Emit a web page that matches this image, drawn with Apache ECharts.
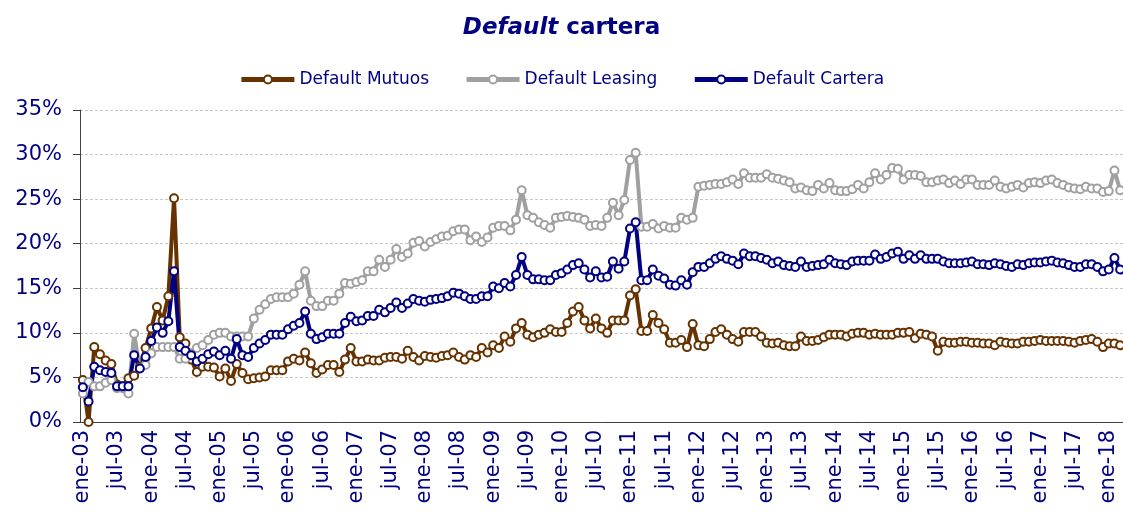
<!DOCTYPE html>
<html lang="es">
<head>
    <meta charset="UTF-8">
    <title>Default cartera</title>
    <style>
        html, body {margin: 0; padding: 0; background: #fff;}
    </style>
</head>
<body>
<div id="main" style="width: 1123px;height: 512px"></div>
</body>
<script src="https://cdn.jsdelivr.net/npm/echarts@6/dist/echarts.min.js"></script>
<script>
    // meses y años del eje (ene-03 .. mar-18)
    const meses = ['ene', 'feb', 'mar', 'abr', 'may', 'jun', 'jul', 'ago', 'sep', 'oct', 'nov', 'dic']
    const anioInicio = 2003
    const totalMeses = 183

    // valores en %, una fila por año
    const mutuos = [
        4.7, 0.0, 8.4, 7.6, 6.9, 6.5, 4.2, 4.0, 4.9, 5.2, 6.2, 8.3,
        10.5, 12.9, 11.4, 14.1, 25.1, 9.5, 8.8, 7.0, 5.6, 6.2, 6.2, 6.1,
        5.1, 6.0, 4.6, 6.5, 5.5, 4.8, 4.9, 5.0, 5.1, 5.8, 5.8, 5.8,
        6.8, 7.1, 6.9, 7.8, 6.6, 5.5, 5.9, 6.4, 6.4, 5.6, 7.0, 8.3,
        6.8, 6.8, 7.0, 6.9, 6.9, 7.2, 7.3, 7.3, 7.1, 8.0, 7.3, 6.9,
        7.4, 7.3, 7.2, 7.4, 7.5, 7.8, 7.3, 7.0, 7.5, 7.3, 8.3, 7.8,
        8.6, 8.3, 9.6, 9.0, 10.5, 11.1, 9.8, 9.5, 9.8, 10.0, 10.4, 10.1,
        10.1, 11.1, 12.4, 12.9, 11.4, 10.5, 11.6, 10.5, 10.0, 11.4, 11.4, 11.4,
        14.2, 14.9, 10.2, 10.2, 12.0, 11.1, 10.4, 8.9, 8.9, 9.2, 8.4, 11.0,
        8.6, 8.5, 9.3, 10.1, 10.4, 9.8, 9.3, 9.0, 10.1, 10.1, 10.1, 9.6,
        8.9, 8.8, 8.9, 8.6, 8.5, 8.5, 9.6, 9.1, 9.1, 9.2, 9.5, 9.8,
        9.8, 9.8, 9.6, 9.9, 10.0, 10.0, 9.8, 9.9, 9.8, 9.8, 9.8, 10.0,
        10.0, 10.1, 9.4, 9.9, 9.8, 9.6, 8.0, 9.0, 8.9, 8.9, 9.0, 9.0,
        8.9, 8.9, 8.8, 8.8, 8.6, 9.0, 8.9, 8.8, 8.8, 9.0, 9.0, 9.1,
        9.2, 9.1, 9.1, 9.1, 9.1, 9.0, 8.9, 9.1, 9.2, 9.3, 9.0, 8.4,
        8.8, 8.8, 8.6
    ]
    const leasing = [
        3.2, 4.5, 4.0, 4.0, 4.4, 4.7, 3.8, 3.8, 3.2, 9.9, 6.0, 6.4,
        7.7, 8.4, 8.4, 8.4, 8.4, 7.1, 7.1, 7.7, 8.3, 8.6, 9.2, 9.8,
        10.0, 10.0, 9.6, 9.6, 9.6, 9.6, 11.6, 12.6, 13.2, 13.8, 14.0, 14.0,
        14.0, 14.4, 15.4, 16.9, 13.6, 13.0, 13.0, 13.6, 13.6, 14.4, 15.6, 15.5,
        15.7, 15.9, 16.9, 16.9, 18.2, 17.4, 18.2, 19.4, 18.5, 18.9, 20.1, 20.3,
        19.7, 20.2, 20.5, 20.8, 20.9, 21.4, 21.6, 21.6, 20.4, 20.8, 20.2, 20.7,
        21.8, 22.0, 22.0, 21.5, 22.7, 26.0, 23.2, 22.9, 22.4, 22.1, 21.8, 22.9,
        23.0, 23.1, 23.0, 22.9, 22.7, 22.0, 22.1, 22.0, 22.9, 24.6, 23.2, 24.9,
        29.4, 30.2, 21.9, 21.9, 22.2, 21.7, 22.0, 21.8, 21.8, 22.9, 22.7, 22.9,
        26.4, 26.5, 26.6, 26.7, 26.7, 26.9, 27.2, 26.7, 27.9, 27.4, 27.4, 27.4,
        27.8, 27.4, 27.3, 27.1, 26.9, 26.2, 26.3, 26.0, 25.9, 26.6, 26.2, 26.8,
        26.0, 25.9, 25.9, 26.1, 26.6, 26.2, 26.9, 27.9, 27.2, 27.7, 28.5, 28.4,
        27.2, 27.7, 27.7, 27.6, 26.9, 26.9, 27.1, 27.2, 26.8, 27.1, 26.7, 27.2,
        27.2, 26.6, 26.6, 26.6, 27.1, 26.4, 26.2, 26.4, 26.6, 26.3, 26.8, 26.9,
        26.8, 27.1, 27.2, 26.8, 26.6, 26.3, 26.2, 26.1, 26.4, 26.2, 26.2, 25.8,
        25.9, 28.2, 26.0
    ]
    const cartera = [
        3.9, 2.3, 6.2, 5.8, 5.6, 5.5, 4.0, 4.0, 4.0, 7.5, 6.0, 7.3,
        9.1, 10.6, 10.0, 11.3, 16.9, 8.4, 8.0, 7.5, 6.8, 7.1, 7.6, 7.9,
        7.5, 8.0, 7.1, 9.3, 7.5, 7.3, 8.3, 8.8, 9.2, 9.8, 9.8, 9.8,
        10.4, 10.8, 11.1, 12.4, 9.9, 9.3, 9.5, 9.9, 9.9, 9.9, 11.1, 11.8,
        11.3, 11.4, 11.9, 11.9, 12.6, 12.3, 12.8, 13.4, 12.8, 13.3, 13.8, 13.6,
        13.5, 13.7, 13.8, 13.9, 14.1, 14.5, 14.4, 14.1, 13.8, 13.8, 14.1, 14.1,
        15.2, 15.0, 15.6, 15.2, 16.5, 18.5, 16.5, 16.0, 16.0, 15.9, 15.9, 16.5,
        16.7, 17.1, 17.6, 17.8, 17.1, 16.2, 16.9, 16.2, 16.3, 18.0, 17.2, 18.0,
        21.7, 22.4, 15.9, 15.9, 17.1, 16.4, 16.1, 15.4, 15.3, 15.9, 15.4, 16.8,
        17.4, 17.4, 17.8, 18.3, 18.6, 18.3, 18.1, 17.7, 18.9, 18.6, 18.6, 18.4,
        18.2, 17.8, 18.0, 17.6, 17.5, 17.4, 18.0, 17.4, 17.5, 17.6, 17.7, 18.2,
        17.8, 17.7, 17.6, 18.0, 18.1, 18.1, 18.1, 18.8, 18.3, 18.5, 18.9, 19.1,
        18.3, 18.7, 18.3, 18.7, 18.3, 18.3, 18.3, 18.0, 17.8, 17.8, 17.8, 17.9,
        18.0, 17.7, 17.7, 17.6, 17.8, 17.7, 17.5, 17.4, 17.7, 17.6, 17.8, 17.9,
        17.9, 18.0, 18.1, 17.9, 17.8, 17.6, 17.4, 17.4, 17.7, 17.7, 17.4, 16.9,
        17.1, 18.4, 17.1
    ]

    let categorias = []
    for (let i = 0; i < totalMeses; i++) {
        let anio = anioInicio + Math.floor(i / 12)
        categorias.push(meses[i % 12] + '-' + String(anio).slice(2))
    }

    const azul = '#000080'
    const fuente = 'DejaVu Sans'

    /**
     * serie de linea con circulos blancos
     */
    function serie(nombre, datos, color) {
        return {
            name: nombre,
            type: 'line',
            data: datos,
            symbol: 'circle',
            symbolSize: 8,
            showAllSymbol: true,
            lineStyle: {color: color, width: 4},
            itemStyle: {color: '#fff', borderColor: color, borderWidth: 2},
            emphasis: {disabled: true}
        }
    }

    let chart = echarts.init(document.getElementById('main'))
    let option = {
        animation: false,
        title: {
            text: '{i|Default} cartera',
            left: 'center',
            top: 12,
            textStyle: {
                color: azul,
                fontFamily: fuente,
                fontSize: 23,
                fontWeight: 'bold',
                rich: {
                    i: {color: azul, fontFamily: fuente, fontSize: 23, fontWeight: 'bold', fontStyle: 'italic'}
                }
            }
        },
        legend: {
            top: 66,
            left: 'center',
            itemWidth: 53,
            itemHeight: 10,
            itemGap: 35,
            lineStyle: {width: 5},
            textStyle: {color: azul, fontFamily: fuente, fontSize: 17}
        },
        grid: {left: 80, right: 0, top: 110, bottom: 90},
        xAxis: {
            type: 'category',
            data: categorias,
            boundaryGap: true,
            axisLine: {lineStyle: {color: '#404040', width: 1}},
            axisTick: {interval: 5, length: 6, lineStyle: {color: '#a0a0a0'}},
            axisLabel: {interval: 5, rotate: 90, margin: 8, color: azul, fontFamily: fuente, fontSize: 21}
        },
        yAxis: {
            type: 'value',
            min: 0,
            max: 35,
            interval: 5,
            axisLine: {show: true, lineStyle: {color: '#404040', width: 1}},
            axisTick: {show: true, length: 7, lineStyle: {color: '#404040'}},
            axisLabel: {margin: 18, color: azul, fontFamily: fuente, fontSize: 21, formatter: '{value}%'},
            splitLine: {lineStyle: {color: '#c8c8c8', type: [3, 2], width: 1}}
        },
        series: [
            serie('Default Mutuos', mutuos, '#663300'),
            serie('Default Leasing', leasing, '#a0a0a0'),
            serie('Default Cartera', cartera, azul)
        ]
    }
    chart.setOption(option)
</script>
</html>
